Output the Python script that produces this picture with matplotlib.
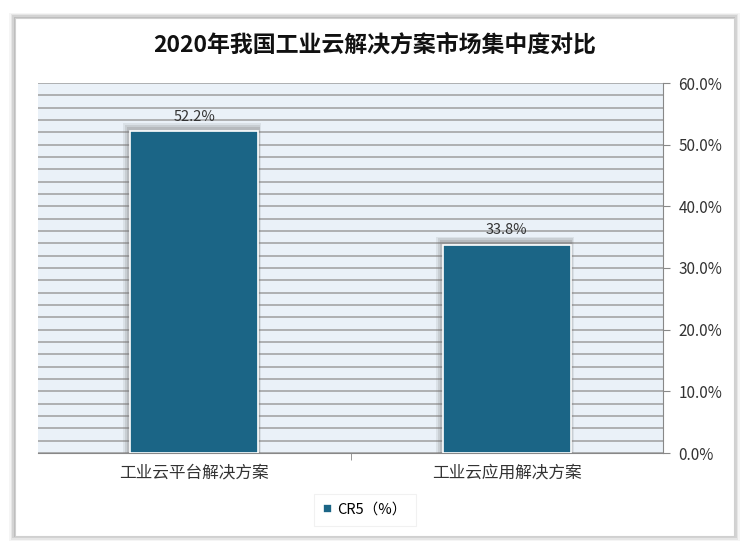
import matplotlib.pyplot as plt
from matplotlib.patches import Rectangle
from matplotlib.ticker import MultipleLocator, PercentFormatter

plt.rcParams['font.family'] = ['Noto Sans CJK SC', 'DejaVu Sans']

categories = ["工业云平台解决方案", "工业云应用解决方案"]
cr5 = [52.2, 33.8]
series_name = "CR5（%）"
title = "2020年我国工业云解决方案市场集中度对比"

bar_color = "#1b6586"

fig = plt.figure(figsize=(7.5, 5.55), dpi=100)
fig.patch.set_facecolor("white")

# outer frame with soft shadow
for i, a in enumerate([0.04, 0.06, 0.08, 0.1]):
    d = 0.008 - i * 0.002
    fig.patches.append(Rectangle((0.02 - d, 0.035 - d * 1.3), 0.958 + 2 * d, 0.932 + 2 * d * 1.3,
                                 transform=fig.transFigure, facecolor="black",
                                 alpha=a, edgecolor="none", zorder=0))
fig.patches.append(Rectangle((0.02, 0.035), 0.958, 0.932, transform=fig.transFigure,
                             facecolor="white", edgecolor="#d0d0d0", lw=0.8, zorder=1))

ax = fig.add_axes([38 / 750, 1 - 453 / 555, 625 / 750, 370 / 555])
ax.set_zorder(2)
ax.set_facecolor("#eaf1f8")

x = range(len(categories))
width = 0.41
# soft shadow behind bars, heavier toward upper-left
for xi, v in zip(x, cr5):
    for k, a in enumerate([0.12, 0.16, 0.2]):
        pad = 0.022 - k * 0.006
        ax.add_patch(Rectangle((xi - width / 2 - pad, 0), width + pad * 1.4, v + 1.3 - k * 0.3,
                               facecolor="#6e6e6e", alpha=a, edgecolor="none", zorder=2))
bars = ax.bar(x, cr5, width=width, color=bar_color, edgecolor="white", lw=1.2,
              zorder=3, label=series_name)

for xi, v in zip(x, cr5):
    ax.text(xi, v + 1.2, f"{v:.1f}%", ha="center", va="bottom", fontsize=10.5,
            color="#333333", zorder=4)

ax.set_xlim(-0.5, 1.5)
ax.set_ylim(0, 60)
ax.yaxis.tick_right()
ax.yaxis.set_major_locator(MultipleLocator(10))
ax.yaxis.set_minor_locator(MultipleLocator(2))
ax.yaxis.set_major_formatter(PercentFormatter(decimals=1))
ax.grid(axis="y", which="both", color="#9e9e9e", lw=1.1, zorder=1)
ax.set_axisbelow(True)

ax.set_xticks(list(x))
ax.set_xticklabels(categories, fontsize=12, color="#333333")
ax.set_xticks([0.5], minor=True)
ax.tick_params(axis="x", which="major", length=0, pad=8)
ax.tick_params(axis="x", which="minor", length=5, color="#888888")
ax.tick_params(axis="y", which="major", length=5, color="#888888", labelsize=11,
               labelcolor="#333333", pad=6)
ax.tick_params(axis="y", which="minor", length=0)

for s in ["top", "left"]:
    ax.spines[s].set_visible(False)
ax.spines["bottom"].set_color("#888888")
ax.spines["right"].set_color("#888888")

fig.text(0.5, 1 - 45 / 555, title, ha="center", va="center", fontsize=16.5,
         fontweight="bold", color="#111111")

leg = fig.legend(handles=[bars], labels=[series_name], loc="center",
                 bbox_to_anchor=(365 / 750, 1 - 510 / 555), frameon=True,
                 fontsize=10.5, handlelength=0.6, handleheight=0.6, handletextpad=0.4,
                 borderpad=0.6, fancybox=False, shadow=False)
leg.get_frame().set_edgecolor("#eeeeee")
leg.get_frame().set_linewidth(0.8)

fig.savefig("out.png", dpi=100)
